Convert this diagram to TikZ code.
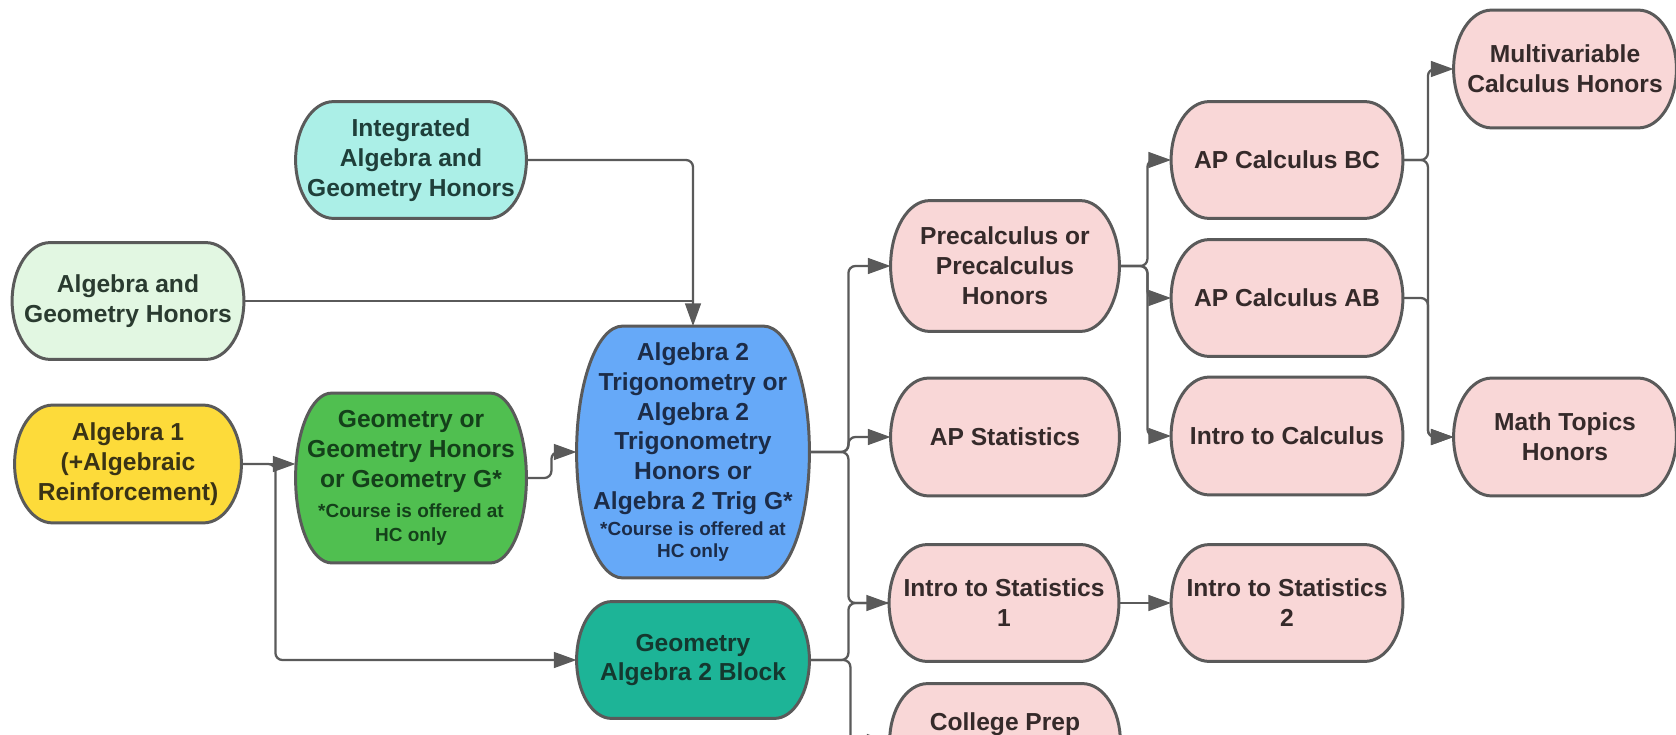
\documentclass[tikz,border=0pt]{standalone}
\usepackage{fontspec}
\setmainfont{Liberation Sans}
\usetikzlibrary{arrows.meta,backgrounds,calc}
\definecolor{lines}{HTML}{5A5A5A}
\definecolor{cyanF}{HTML}{ABEFE7}
\definecolor{mintF}{HTML}{E2F7E2}
\definecolor{yelF}{HTML}{FDDB3A}
\definecolor{grnF}{HTML}{50BF50}
\definecolor{bluF}{HTML}{66A9F8}
\definecolor{tealF}{HTML}{1DB497}
\definecolor{pinkF}{HTML}{F9D7D7}
\definecolor{cyanT}{HTML}{1F3F3A}
\definecolor{mintT}{HTML}{2A3B30}
\definecolor{yelT}{HTML}{3A3315}
\definecolor{grnT}{HTML}{14401A}
\definecolor{bluT}{HTML}{1C2C48}
\definecolor{tealT}{HTML}{14382F}
\definecolor{pinkT}{HTML}{352A2A}
\newcommand\notefont{\fontsize{10.8}{13}\selectfont}
\newcommand\capsule[3]{%
  \path[draw=lines, line width=1.7pt, fill=#2]
    let \p1=(#1.north east), \p2=(#1.south west), \n1={(\y1-(\y2))/2}
    in (\x2+#3,\y1) -- (\x1-#3,\y1)
       arc[start angle=90, end angle=-90, x radius=#3, y radius=\n1]
       -- (\x2+#3,\y2)
       arc[start angle=270, end angle=90, x radius=#3, y radius=\n1]
       -- cycle;}
\tikzset{
  course/.style={rectangle, draw=none, inner sep=0pt, outer sep=0.8pt, align=center,
    font=\fontsize{14}{17}\selectfont\bfseries},
  wh/.style 2 args={minimum width=#1*0.02cm, minimum height=#2*0.02cm},
  conn/.style={draw=lines, line width=1.3pt, rounded corners=4pt},
  arr/.style={conn, -{Triangle[length=13pt,width=9pt]}}
}
\begin{document}
\begin{tikzpicture}[x=0.02cm, y=0.02cm]
\useasboundingbox (0,0) rectangle (1676,-734);
% nodes
\node[course, wh={228}{114}, text=cyanT] (iagh) at (411,-160) {Integrated\\Algebra and\\Geometry Honors};
\node[course, wh={229}{114}, text=mintT] (agh) at (128,-301) {Algebra and\\Geometry Honors};
\node[course, wh={224}{115}, text=yelT] (alg1) at (128,-464) {Algebra 1\\(+Algebraic\\Reinforcement)};
\node[course, wh={228}{167}, text=grnT] (geo) at (411,-478) {Geometry or\\Geometry Honors\\or Geometry G*\\{\notefont *Course is offered at}\\[-3pt]{\notefont HC only}};
\node[course, wh={230}{249}, text=bluT] (a2t) at (693,-452) {Algebra 2\\Trigonometry or\\Algebra 2\\Trigonometry\\Honors or\\Algebra 2 Trig G*\\[-2.3pt]{\notefont *Course is offered at}\\[-4.5pt]{\notefont HC only}};
\node[course, wh={230}{114}, text=tealT] (block) at (693,-660) {Geometry\\Algebra 2 Block};
\node[course, wh={226}{128}, text=pinkT] (precalc) at (1005,-266) {Precalculus or\\Precalculus\\Honors};
\node[course, wh={226}{115}, text=pinkT] (apstat) at (1005,-437) {AP Statistics};
\node[course, wh={227}{114}, text=pinkT] (stat1) at (1004,-603) {Intro to Statistics\\1};
\node[course, wh={228}{114}, text=pinkT] (cprep) at (1005,-742) {College Prep\\[6pt]\mbox{}};
\node[course, wh={229}{114}, text=pinkT] (bc) at (1287,-160) {AP Calculus BC};
\node[course, wh={229}{114}, text=pinkT] (ab) at (1287,-298) {AP Calculus AB};
\node[course, wh={229}{115}, text=pinkT] (icalc) at (1287,-436) {Intro to Calculus};
\node[course, wh={229}{114}, text=pinkT] (stat2) at (1287,-603) {Intro to Statistics\\2};
\node[course, wh={220}{115}, text=pinkT] (multi) at (1565,-69) {Multivariable\\Calculus Honors};
\node[course, wh={220}{115}, text=pinkT] (topics) at (1565,-437) {Math Topics\\Honors};
% shapes behind the texts
\begin{scope}[on background layer]
  \clip (0,0) rectangle (1676,-734);
  \fill[white] (0,0) rectangle (1676,-734);
  \capsule{iagh}{cyanF}{0.76cm}
  \capsule{agh}{mintF}{0.76cm}
  \capsule{alg1}{yelF}{0.76cm}
  \capsule{geo}{grnF}{0.72cm}
  \capsule{a2t}{bluF}{0.92cm}
  \capsule{block}{tealF}{0.7cm}
  \capsule{precalc}{pinkF}{0.78cm}
  \capsule{apstat}{pinkF}{0.76cm}
  \capsule{stat1}{pinkF}{0.76cm}
  \capsule{cprep}{pinkF}{0.76cm}
  \capsule{bc}{pinkF}{0.76cm}
  \capsule{ab}{pinkF}{0.76cm}
  \capsule{icalc}{pinkF}{0.76cm}
  \capsule{stat2}{pinkF}{0.76cm}
  \capsule{multi}{pinkF}{0.76cm}
  \capsule{topics}{pinkF}{0.76cm}
\end{scope}
% connectors
\begin{scope}
\clip (0,0) rectangle (1676,-734);
\draw[arr] (iagh.east) -| (a2t.north);
\draw[conn] (agh.east) -- (agh.east -| a2t.north);
\draw[arr] (alg1.east) -- (alg1.east -| geo.west);
\draw[arr] (alg1.east) -- ++(34,0) |- (block.west);
\draw[arr] (geo.east) -- ++(25,0) |- (a2t.west);
\draw[arr] (a2t.east) -- ++(39,0) |- (precalc.west);
\draw[arr] (a2t.east) -- ++(39,0) |- (apstat.west);
\draw[arr] (a2t.east) -- ++(39,0) |- (stat1.west);
\draw[conn] (block.east) -- ++(39,0) |- (stat1.west);
\draw[arr] (block.east) -- ++(41,0) |- (cprep.west);
\draw[arr] (precalc.east) -- ++(28,0) |- (bc.west);
\draw[arr] (precalc.east) -- ++(28,0) |- (ab.west);
\draw[arr] (precalc.east) -- ++(28,0) |- (icalc.west);
\draw[arr] (bc.east) -- ++(25,0) |- (multi.west);
\draw[arr] (bc.east) -- ++(25,0) |- (topics.west);
\draw[arr] (ab.east) -- ++(25,0) |- (topics.west);
\draw[arr] (stat1.east) -- (stat2.west);
\end{scope}
\end{tikzpicture}
\end{document}
